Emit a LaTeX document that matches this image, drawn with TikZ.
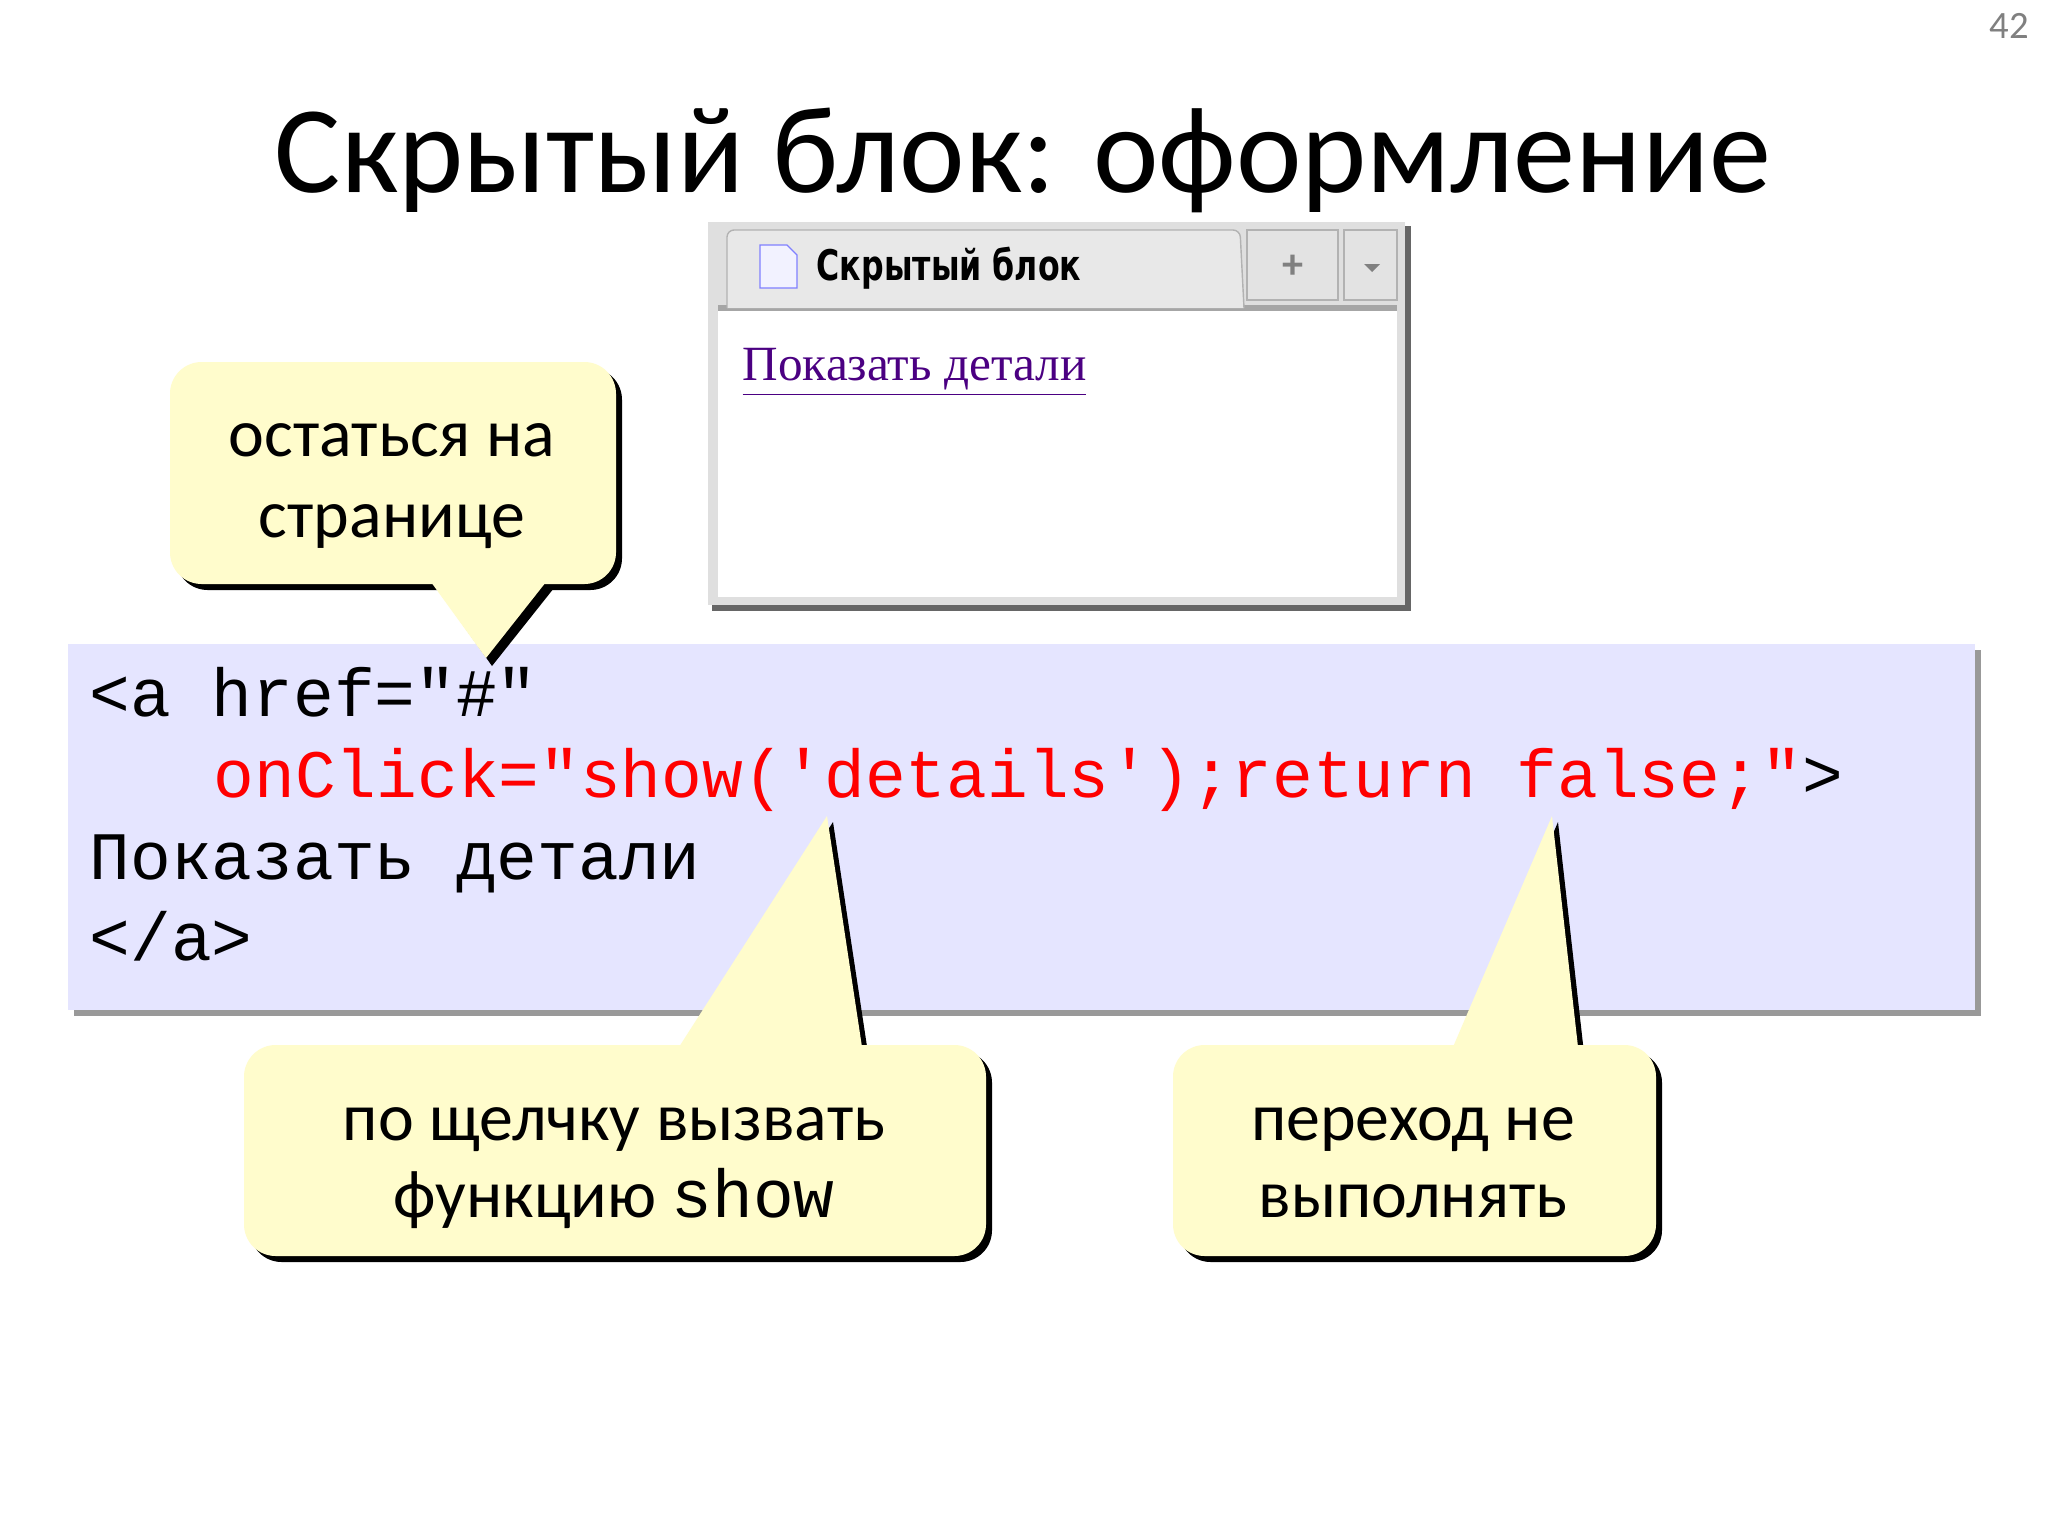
\documentclass[tikz,border=0pt]{standalone}
\usepackage{fontspec}
\setmainfont{Carlito}
\newfontfamily\codefont{Liberation Mono}
\newfontfamily\serifweb{Liberation Serif}
\newfontfamily\tabfont[FakeStretch=0.75]{DejaVu Sans}
\begin{document}
\begin{tikzpicture}[x=0.01cm,y=-0.01cm,
  callout/.style={fill=yellow!20!white, draw=none},
  shadowc/.style={fill=black},
  ctext/.style={font=\fontsize{19.3}{23}\selectfont, anchor=base},
  code/.style={font=\codefont\fontsize{19.3}{22}\selectfont, anchor=base west, inner sep=0pt}]
\useasboundingbox (0,0) rectangle (2048,1536);
\fill[white] (0,0) rectangle (2048,1536);
\node[text=gray, font=\fontsize{11}{13}\selectfont] (pg) at (2009,26) {42};
\node[font=\fontsize{35.3}{40}\selectfont, anchor=base] (title) at (1023,192) {Скрытый блок: оформление};
% browser
\fill[gray!80!black] (712,226) rectangle (1411,611);
\fill[gray!25] (708,222) rectangle (1405,605);
\fill[white] (718,308) rectangle (1397,597);
\draw[gray!70, line width=1.5] (718,308) -- (1397,308);
\draw[gray!60, fill=gray!18, rounded corners=2] (727,308) -- (727,230) -- (1240,230) -- (1244,308);
\draw[gray!60, fill=gray!22] (1247,230) rectangle (1338,300);
\draw[gray!60, fill=gray!22] (1344,230) rectangle (1397,300);
\node[text=gray, font=\bfseries\large] (plus) at (1293,267) {+};
\fill[gray] (1364,264) -- (1380,264) -- (1372,272) -- cycle;
\draw[blue!50, fill=blue!5] (760,245) -- (787,245) -- (797,255) -- (797,288) -- (760,288) -- cycle;
\node[font=\tabfont\bfseries\fontsize{12}{14}\selectfont, anchor=base west, inner sep=0pt] (tab) at (816,280) {Скрытый блок};
\node[font=\serifweb\fontsize{14}{17}\selectfont, text={rgb,255:red,75;green,0;blue,130}, anchor=base west, inner sep=0pt] (link) at (742,380) {\underline{Показать детали}};
% code box
\fill[gray!80] (74,650) rectangle (1981,1016);
\fill[blue!10] (68,644) rectangle (1975,1010);
\node[code] (l1) at (89,716) {<a href="\#"};
\node[code, text=red] (l2) at (213,797) {onClick="show('details');return false;"\textcolor{black}{>}};
\node[code] (l3) at (89,879) {Показать детали};
\node[code] (l4) at (89,960) {</a>};
% callout 1
\fill[shadowc, rounded corners=9] (176,368) rectangle (622,590);
\fill[shadowc] (437,588) -- (492,666) -- (554,588) -- cycle;
\fill[callout, rounded corners=9] (170,362) rectangle (616,584);
\fill[callout] (431,582) -- (486,658) -- (546,582) -- cycle;
\node[ctext] (c1a) at (392,456) {остаться на};
\node[ctext] (c1b) at (392,537) {странице};
% callout 2
\fill[shadowc, rounded corners=9] (250,1051) rectangle (992,1262);
\fill[shadowc] (685,1053) -- (833,822) -- (868,1053) -- cycle;
\fill[callout, rounded corners=9] (244,1045) rectangle (986,1256);
\fill[callout] (679,1047) -- (827,816) -- (862,1047) -- cycle;
\node[ctext] (c2a) at (614,1140) {по щелчку вызвать};
\node[ctext] (c2b) at (614,1217) {функцию \codefont show};
% callout 3
\fill[shadowc, rounded corners=9] (1179,1051) rectangle (1662,1262);
\fill[shadowc] (1459,1053) -- (1558,822) -- (1584,1053) -- cycle;
\fill[callout, rounded corners=9] (1173,1045) rectangle (1656,1256);
\fill[callout] (1453,1047) -- (1552,816) -- (1578,1047) -- cycle;
\node[ctext] (c3a) at (1413,1140) {переход не};
\node[ctext] (c3b) at (1413,1217) {выполнять};
\end{tikzpicture}
\end{document}
